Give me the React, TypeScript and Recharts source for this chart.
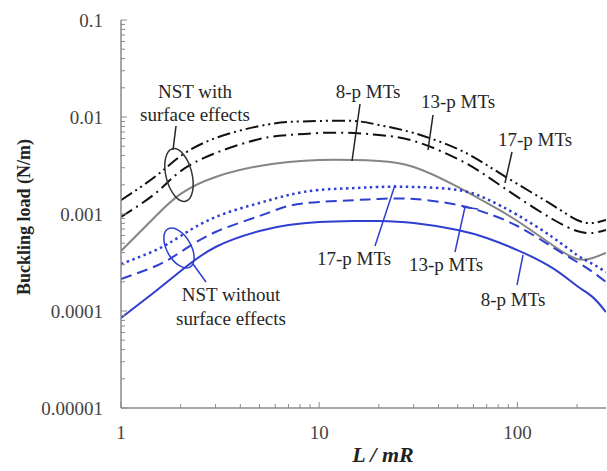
import { Line, LineChart, XAxis, YAxis } from "recharts";

// L/mR sample points (log axis)
const xValues = [1, 1.5, 2, 3, 5, 7, 10, 15, 20, 30, 50, 70, 100, 150, 200, 240, 280];

// NST with surface effects
const withSurface8p = [0.000416, 0.000954, 0.00161, 0.00241, 0.00313, 0.00344, 0.0036, 0.0036, 0.00352, 0.00305, 0.0019, 0.0013, 0.000847, 0.000479, 0.000344, 0.000352, 0.000396];
const withSurface13p = [0.000931, 0.00165, 0.00277, 0.00425, 0.00593, 0.00652, 0.00684, 0.00684, 0.00652, 0.00566, 0.00369, 0.00246, 0.0015, 0.000888, 0.000668, 0.000637, 0.000684];
const withSurface17p = [0.00139, 0.00246, 0.00396, 0.00607, 0.00807, 0.00888, 0.0091, 0.0091, 0.00827, 0.00684, 0.00468, 0.0032, 0.00204, 0.00124, 0.000867, 0.000807, 0.000867];

// NST without surface effects
const noSurface8p = [0.0000847, 0.000161, 0.000258, 0.000457, 0.000668, 0.00077, 0.000827, 0.000847, 0.000847, 0.000807, 0.000684, 0.000566, 0.000425, 0.000278, 0.000181, 0.000139, 0.0000976];
const noSurface13p = [0.000214, 0.000291, 0.000406, 0.000652, 0.000954, 0.00121, 0.00133, 0.00139, 0.00143, 0.00143, 0.00124, 0.00102, 0.000752, 0.000457, 0.00032, 0.000252, 0.000199];
const noSurface17p = [0.000305, 0.000425, 0.000593, 0.000931, 0.0013, 0.00157, 0.00177, 0.00185, 0.0019, 0.0019, 0.00177, 0.00143, 0.000977, 0.000579, 0.000378, 0.000305, 0.000252];

const xMajorTicks = [1, 10, 100];
const xTickLabels = ["1", "10", "100"];
const yMajorTicks = [0.00001, 0.0001, 0.001, 0.01, 0.1];
const yTickLabels = ["0.00001", "0.0001", "0.001", "0.01", "0.1"];

const FONT = "Liberation Serif";
const AXIS = "#8a8a8a";
const BLUE = "#2f3fcf";

const xTicks: number[] = [];
[1, 10, 100].forEach((d) => {
  for (let k = 1; k <= 9; k++) {
    const v = +(k * d).toPrecision(3);
    if (v <= 280) xTicks.push(v);
  }
});

const yTicks: number[] = [];
[0.00001, 0.0001, 0.001, 0.01].forEach((d) => {
  for (let k = 1; k <= 9; k++) yTicks.push(+(k * d).toPrecision(3));
});
yTicks.push(0.1);

const data = xValues.map((x, i) => ({
  x,
  ws8: withSurface8p[i],
  ws13: withSurface13p[i],
  ws17: withSurface17p[i],
  ns8: noSurface8p[i],
  ns13: noSurface13p[i],
  ns17: noSurface17p[i],
}));

function labelFor(value: number, majors: number[], labels: string[]) {
  const idx = majors.findIndex((m) => Math.abs(m - value) / m < 1e-6);
  return idx >= 0 ? labels[idx] : null;
}

function XTick(props: any) {
  const { x, y, payload } = props;
  const label = labelFor(payload.value, xMajorTicks, xTickLabels);
  return (
    <g>
      <line x1={x} y1={y} x2={x} y2={y - (label ? 6 : 4)} stroke={AXIS} strokeWidth={1} />
      {label && (
        <text x={x} y={y + 31} textAnchor="middle" style={{ fontFamily: FONT }} fontSize={19} fill="#444">
          {label}
        </text>
      )}
    </g>
  );
}

function YTick(props: any) {
  const { x, y, payload } = props;
  const label = labelFor(payload.value, yMajorTicks, yTickLabels);
  return (
    <g>
      <line x1={x} y1={y} x2={x + (label ? 6 : 4)} y2={y} stroke={AXIS} strokeWidth={1} />
      {label && (
        <text x={x - 18} y={y + 7} textAnchor="end" style={{ fontFamily: FONT }} fontSize={19} fill="#444">
          {label}
        </text>
      )}
    </g>
  );
}

const txt = { style: { fontFamily: FONT }, fontSize: 19, fill: "#262626", textAnchor: "middle" as const };

export default function App() {
  return (
    <div style={{ position: "absolute", left: 0, top: 0, width: 607, height: 471, background: "#fff" }}>
      <LineChart width={607} height={471} data={data} margin={{ top: 20, right: 1, bottom: 0, left: 0 }}>
        <XAxis
          dataKey="x"
          type="number"
          scale="log"
          domain={[1, 280]}
          ticks={xTicks}
          interval={0}
          allowDataOverflow
          height={63}
          tickSize={0}
          tickMargin={0}
          tick={<XTick />}
          axisLine={{ stroke: AXIS, strokeWidth: 1.5 }}
          tickLine={false}
        />
        <XAxis
          xAxisId="top"
          dataKey="x"
          type="number"
          scale="log"
          domain={[1, 280]}
          orientation="top"
          height={0}
          tick={false}
          tickLine={false}
          axisLine={{ stroke: AXIS, strokeWidth: 1.5 }}
        />
        <YAxis
          type="number"
          scale="log"
          domain={[0.00001, 0.1]}
          ticks={yTicks}
          interval={0}
          allowDataOverflow
          width={121}
          tickSize={0}
          tickMargin={0}
          tick={<YTick />}
          axisLine={{ stroke: AXIS, strokeWidth: 1.5 }}
          tickLine={false}
        />
        <Line dataKey="ws8" type="natural" stroke="#858585" strokeWidth={2} dot={false} isAnimationActive={false} />
        <Line dataKey="ws13" type="natural" stroke="#111" strokeWidth={2} strokeDasharray="13 5 2 5" dot={false} isAnimationActive={false} />
        <Line dataKey="ws17" type="natural" stroke="#111" strokeWidth={2} strokeDasharray="13 4 2 4 2 4" dot={false} isAnimationActive={false} />
        <Line dataKey="ns8" type="natural" stroke={BLUE} strokeWidth={2} dot={false} isAnimationActive={false} />
        <Line dataKey="ns13" type="natural" stroke={BLUE} strokeWidth={2} strokeDasharray="11 6" dot={false} isAnimationActive={false} />
        <Line dataKey="ns17" type="natural" stroke={BLUE} strokeWidth={2.5} strokeDasharray="2.5 3.5" dot={false} isAnimationActive={false} />
      </LineChart>

      <svg width={607} height={471} style={{ position: "absolute", left: 0, top: 0, pointerEvents: "none" }}>
        {/* axis titles */}
        <text
          x={0}
          y={0}
          transform="translate(30,217) rotate(-90)"
          textAnchor="middle"
          style={{ fontFamily: FONT }}
          fontSize={18}
          fontWeight="bold"
          fill="#222"
        >
          Buckling load (N/m)
        </text>
        <text x={383} y={462} textAnchor="middle" style={{ fontFamily: FONT }} fontSize={22} fontWeight="bold" fontStyle="italic" fill="#222">
          L / mR
        </text>

        {/* surface effects group */}
        <text x={195} y={98} {...txt}>NST with</text>
        <text x={195} y={121} {...txt}>surface effects</text>
        <line x1={176} y1={126} x2={173} y2={150} stroke="#222" strokeWidth={1.5} />
        <ellipse cx={179} cy={175} rx={13} ry={27} transform="rotate(-14 179 175)" fill="none" stroke="#333" strokeWidth={1.5} />

        <text x={368} y={98} {...txt}>8-p MTs</text>
        <line x1={360} y1={104} x2={352} y2={161} stroke="#222" strokeWidth={1.5} />
        <text x={458} y={108} {...txt}>13-p MTs</text>
        <line x1={433} y1={115} x2={428} y2={150} stroke="#222" strokeWidth={1.5} />
        <text x={535} y={146} {...txt}>17-p MTs</text>
        <line x1={512} y1={152} x2={505} y2={183} stroke="#222" strokeWidth={1.5} />

        {/* no surface effects group */}
        <text x={231} y={301} {...txt}>NST without</text>
        <text x={231} y={325} {...txt}>surface effects</text>
        <ellipse cx={179} cy={248} rx={12} ry={22} transform="rotate(-30 179 248)" fill="none" stroke={BLUE} strokeWidth={1.5} />
        <line x1={193} y1={264} x2={206} y2={282} stroke={BLUE} strokeWidth={1.5} />

        <text x={354} y={265} {...txt}>17-p MTs</text>
        <line x1={375} y1={246} x2={395} y2={185} stroke={BLUE} strokeWidth={1.5} />
        <text x={446} y={271} {...txt}>13-p MTs</text>
        <line x1={455} y1={252} x2={465} y2={207} stroke={BLUE} strokeWidth={1.5} />
        <line x1={463} y1={207} x2={478} y2={209} stroke={BLUE} strokeWidth={1.5} />
        <text x={513} y={306} {...txt}>8-p MTs</text>
        <line x1={517} y1={285} x2={523} y2={255} stroke={BLUE} strokeWidth={1.5} />
      </svg>
    </div>
  );
}
